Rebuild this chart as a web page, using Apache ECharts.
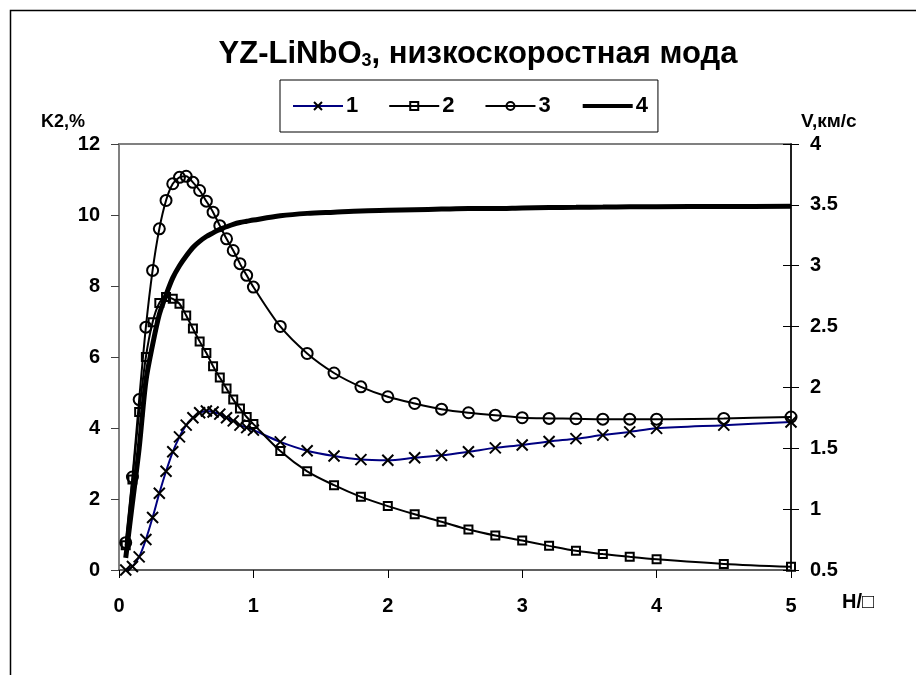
<!DOCTYPE html>
<html>
<head>
<meta charset="utf-8">
<script src="https://cdn.jsdelivr.net/npm/echarts@6/dist/echarts.min.js"></script>
<style>
html,body{margin:0;padding:0;background:#fff;}
#c{width:916px;height:675px;}
</style>
</head>
<body>
<div id="c"></div>
<script>
// H/λ values (x)
var hValues = [0.05,0.1,0.15,0.2,0.25,0.3,0.35,0.4,0.45,0.5,0.55,0.6,0.65,0.7,0.75,0.8,0.85,0.9,0.95,1.0,1.2,1.4,1.6,1.8,2.0,2.2,2.4,2.6,2.8,3.0,3.2,3.4,3.6,3.8,4.0,4.5,5.0];
// K2,% series
var series1 = [0.0,0.1,0.37,0.86,1.48,2.16,2.78,3.33,3.75,4.08,4.29,4.43,4.48,4.45,4.39,4.29,4.2,4.08,4.01,3.94,3.61,3.36,3.21,3.11,3.09,3.16,3.23,3.33,3.44,3.52,3.62,3.70,3.80,3.89,3.99,4.08,4.17];
var series2 = [0.7,2.55,4.45,6.0,6.98,7.52,7.69,7.64,7.5,7.17,6.8,6.44,6.11,5.74,5.42,5.11,4.8,4.55,4.31,4.11,3.35,2.78,2.39,2.06,1.8,1.57,1.36,1.14,0.97,0.83,0.68,0.54,0.45,0.37,0.3,0.17,0.09];
var series3 = [0.77,2.62,4.8,6.84,8.44,9.61,10.41,10.88,11.06,11.09,10.92,10.69,10.39,10.08,9.7,9.33,9.0,8.63,8.3,7.97,6.86,6.1,5.55,5.16,4.88,4.69,4.53,4.43,4.36,4.29,4.27,4.26,4.25,4.25,4.25,4.27,4.31];
// V, km/s series
var series4 = [0.6,1.05,1.5,2.05,2.35,2.6,2.76,2.9,3.0,3.08,3.15,3.2,3.24,3.27,3.3,3.32,3.34,3.355,3.365,3.375,3.41,3.43,3.44,3.45,3.455,3.46,3.465,3.47,3.47,3.475,3.478,3.48,3.482,3.484,3.485,3.487,3.488];
var seriesNames = ['1','2','3','4'];
var xTicks = [0,1,2,3,4,5];
var leftTicks = [0,2,4,6,8,10,12];
var rightTicks = [0.5,1,1.5,2,2.5,3,3.5,4];

function pairs(ys){ return hValues.map(function(h,i){ return [h, ys[i]]; }); }

var FONT = '"Liberation Sans", Arial, sans-serif';
var chart = echarts.init(document.getElementById('c'), null, {renderer:'canvas'});
var crossPath = 'path://M0,0L10,10M10,0L0,10';
var G = {left: 119, right: 125, top: 144, bottom: 105};

var option = {
  backgroundColor: '#fff',
  animation: false,
  title: {
    text: '{a|YZ-LiNbO}{s|3}{a|, низкоскоростная мода}',
    left: 473, top: 33, textAlign: 'center',
    textStyle: {
      rich: {
        a: {fontFamily: FONT, fontWeight: 'bold', fontSize: 31, color: '#000'},
        s: {fontFamily: FONT, fontWeight: 'bold', fontSize: 18, color: '#000', padding: [14,0,0,0]}
      }
    }
  },
  legend: {
    left: 280, top: 80,
    data: [
      {name: seriesNames[0]},
      {name: seriesNames[1]},
      {name: seriesNames[2]},
      {name: seriesNames[3], itemStyle: {color: 'rgba(0,0,0,0)', borderWidth: 0, opacity: 0}, lineStyle: {color: '#000', width: 4}}
    ],
    itemWidth: 50, itemHeight: 10, itemGap: 30,
    padding: [15, 10, 15, 12],
    borderColor: '#000', borderWidth: 1, backgroundColor: '#fff',
    textStyle: {fontFamily: FONT, fontWeight: 'bold', fontSize: 22, color: '#000', padding: [0,0,0,-2]}
  },
  grid: [
    {left: G.left, right: G.right, top: G.top, bottom: G.bottom,
     show: true, borderColor: '#808080', borderWidth: 2, backgroundColor: '#fff'},
    {left: G.left, right: G.right, top: G.top, bottom: G.bottom, show: false}
  ],
  xAxis: [
    {
      type: 'value', gridIndex: 0, min: 0, max: 5, interval: 1,
      axisLine: {show: true, onZero: false, lineStyle: {color: '#606060', width: 2}},
      axisTick: {show: true, inside: false, length: 8, lineStyle: {color: '#000', width: 1}},
      axisLabel: {fontFamily: FONT, fontWeight: 'bold', fontSize: 20, color: '#000', margin: 26,
        formatter: function(v){ return xTicks.indexOf(v) >= 0 ? String(v) : ''; }},
      splitLine: {show: false}
    },
    {
      type: 'value', gridIndex: 1, min: 0, max: 5, interval: 1, show: false,
      axisLine: {show: false, onZero: false}
    }
  ],
  yAxis: [
    {
      type: 'value', gridIndex: 0, position: 'left', min: 0, max: 12, interval: 2,
      name: 'K2,%', nameLocation: 'end', nameGap: 22,
      nameTextStyle: {fontFamily: FONT, fontWeight: 'bold', fontSize: 18, color: '#000', align: 'right', verticalAlign: 'middle', padding: [0,34,0,0]},
      axisLine: {show: true, onZero: false, lineStyle: {color: '#808080', width: 2}},
      axisTick: {show: true, inside: false, length: 8, lineStyle: {color: '#404040', width: 1}},
      axisLabel: {fontFamily: FONT, fontWeight: 'bold', fontSize: 20, color: '#000', margin: 19,
        formatter: function(v){ return leftTicks.indexOf(v) >= 0 ? String(v) : ''; }},
      splitLine: {show: false}
    },
    {
      type: 'value', gridIndex: 0, position: 'right', min: 0.5, max: 4, interval: 0.5,
      name: 'V,км/с', nameLocation: 'end', nameGap: 22,
      nameTextStyle: {fontFamily: FONT, fontWeight: 'bold', fontSize: 19, color: '#000', align: 'left', verticalAlign: 'middle', padding: [0,0,0,10]},
      axisLine: {show: true, onZero: false, lineStyle: {color: '#000', width: 1.5}},
      axisTick: {show: true, inside: false, length: 8, lineStyle: {color: '#000', width: 1}},
      axisLabel: {fontFamily: FONT, fontWeight: 'bold', fontSize: 20, color: '#000', margin: 19,
        formatter: function(v){ return rightTicks.indexOf(v) >= 0 ? String(v) : ''; }},
      splitLine: {show: false}
    },
    {
      type: 'value', gridIndex: 1, position: 'right', min: 0.5, max: 4, interval: 0.5,
      axisLine: {show: false, onZero: false},
      axisTick: {show: true, inside: true, length: 8, lineStyle: {color: '#000', width: 1}},
      axisLabel: {show: false},
      splitLine: {show: false}
    }
  ],
  series: [
    {
      name: seriesNames[0], type: 'line', xAxisIndex: 0, yAxisIndex: 0, smooth: 0.3,
      data: pairs(series1),
      symbol: crossPath, symbolSize: 11,
      lineStyle: {color: '#000080', width: 2},
      itemStyle: {color: 'rgba(0,0,0,0)', borderColor: '#000', borderWidth: 2}
    },
    {
      name: seriesNames[1], type: 'line', xAxisIndex: 0, yAxisIndex: 0, smooth: 0.3,
      data: pairs(series2),
      symbol: 'rect', symbolSize: 8,
      lineStyle: {color: '#000', width: 2},
      itemStyle: {color: 'rgba(0,0,0,0)', borderColor: '#000', borderWidth: 2}
    },
    {
      name: seriesNames[2], type: 'line', xAxisIndex: 0, yAxisIndex: 0, smooth: 0.3,
      data: pairs(series3),
      symbol: 'circle', symbolSize: 11,
      lineStyle: {color: '#000', width: 2},
      itemStyle: {color: 'rgba(0,0,0,0)', borderColor: '#000', borderWidth: 2}
    },
    {
      name: seriesNames[3], type: 'line', xAxisIndex: 0, yAxisIndex: 1, smooth: 0.3,
      data: pairs(series4),
      symbol: 'none', showSymbol: false,
      lineStyle: {color: '#000', width: 5},
      itemStyle: {color: '#000'}
    }
  ],
  graphic: [
    {type: 'rect', left: 8, top: 8, shape: {x: 0, y: 0, width: 1000, height: 1000}, style: {fill: 'none', stroke: '#000', lineWidth: 1.5}, z: -1, silent: true},
    {type: 'text', left: 842, top: 592, style: {text: 'H/□', fontFamily: FONT, fontWeight: 'bold', fontSize: 20, fill: '#000'}}
  ]
};
chart.setOption(option);
</script>
</body>
</html>
